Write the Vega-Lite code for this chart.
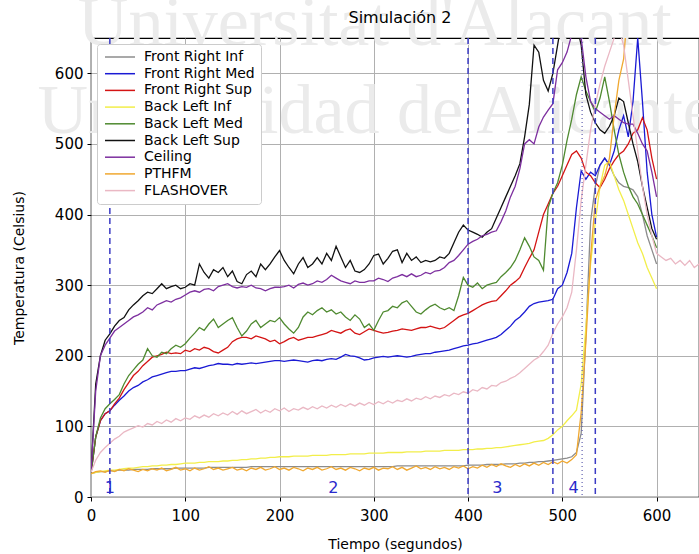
{
"$schema": "https://vega.github.io/schema/vega-lite/v6.json",
"width": 608, "height": 459,
"autosize": {"type": "none"},
"padding": {"left": 91, "top": 38, "right": 0, "bottom": 57},
"background": "white",
"config": {"font": "DejaVu Sans", "view": {"stroke": "#000", "strokeWidth": 1.2}},
"title": {"text": "Simulación 2", "fontSize": 16, "fontWeight": "normal", "color": "#000", "offset": -37, "dx": 5, "frame": "group"},
"datasets": {
"names": [{"k":"a","s":"Front Right Inf"},{"k":"b","s":"Front Right Med"},{"k":"c","s":"Front Right Sup"},{"k":"d","s":"Back Left Inf"},{"k":"e","s":"Back Left Med"},{"k":"f","s":"Back Left Sup"},{"k":"g","s":"Ceiling"},{"k":"h","s":"PTHFM"},{"k":"i","s":"FLASHOVER"}],
"wm": [{"t":301,"v":640,"w":"Universitat d'Alacant"},{"t":302,"v":515,"w":"Universidad de Alicante"}],
"vl": [{"t":20},{"t":400},{"t":490},{"t":535}],
"vd": [{"t":521}],
"labs": [{"t":20,"lab":"1"},{"t":257,"lab":"2"},{"t":431,"lab":"3"},{"t":512,"lab":"4"}],
"temps": [
{"t":0,"a":33,"b":33,"c":33,"d":33,"e":33,"f":35,"g":35,"h":33,"i":35},
{"t":5,"a":35,"b":85,"c":85,"d":35,"e":85,"f":160,"g":150,"h":36,"i":52},
{"t":10,"a":36,"b":108,"c":108,"d":36,"e":112,"f":200,"g":200,"h":37,"i":63},
{"t":15,"a":36,"b":118,"c":118,"d":37,"e":125,"f":222,"g":215,"h":35,"i":70},
{"t":20,"a":37,"b":122,"c":122,"d":38,"e":132,"f":231,"g":225,"h":38,"i":76},
{"t":25,"a":37,"b":130,"c":132,"d":38,"e":138,"f":242,"g":235,"h":36,"i":82},
{"t":30,"a":38,"b":137,"c":140,"d":39,"e":145,"f":250,"g":240,"h":39,"i":86},
{"t":35,"a":38,"b":143,"c":152,"d":40,"e":160,"f":254,"g":245,"h":37,"i":92},
{"t":40,"a":38,"b":150,"c":162,"d":41,"e":172,"f":265,"g":250,"h":40,"i":95},
{"t":45,"a":39,"b":155,"c":172,"d":41,"e":180,"f":272,"g":255,"h":38,"i":98},
{"t":50,"a":39,"b":158,"c":178,"d":42,"e":188,"f":278,"g":258,"h":36,"i":101},
{"t":55,"a":39,"b":163,"c":186,"d":43,"e":194,"f":285,"g":262,"h":39,"i":99},
{"t":60,"a":39,"b":166,"c":192,"d":43,"e":210,"f":290,"g":268,"h":37,"i":104},
{"t":65,"a":40,"b":170,"c":198,"d":44,"e":200,"f":288,"g":265,"h":40,"i":102},
{"t":70,"a":40,"b":172,"c":200,"d":44,"e":198,"f":295,"g":272,"h":38,"i":107},
{"t":75,"a":40,"b":174,"c":202,"d":45,"e":205,"f":302,"g":275,"h":41,"i":104},
{"t":80,"a":40,"b":176,"c":205,"d":45,"e":203,"f":295,"g":278,"h":37,"i":109},
{"t":85,"a":40,"b":178,"c":203,"d":46,"e":210,"f":298,"g":276,"h":39,"i":106},
{"t":90,"a":41,"b":178,"c":204,"d":46,"e":215,"f":300,"g":280,"h":42,"i":111},
{"t":95,"a":41,"b":179,"c":203,"d":47,"e":212,"f":295,"g":282,"h":38,"i":108},
{"t":100,"a":41,"b":179,"c":208,"d":48,"e":217,"f":297,"g":286,"h":40,"i":112},
{"t":105,"a":41,"b":181,"c":206,"d":48,"e":225,"f":302,"g":290,"h":37,"i":110},
{"t":110,"a":41,"b":183,"c":210,"d":48,"e":232,"f":300,"g":292,"h":41,"i":115},
{"t":115,"a":41,"b":182,"c":208,"d":49,"e":240,"f":330,"g":290,"h":38,"i":112},
{"t":120,"a":41,"b":184,"c":212,"d":49,"e":236,"f":318,"g":294,"h":40,"i":116},
{"t":125,"a":42,"b":186,"c":210,"d":50,"e":245,"f":310,"g":295,"h":43,"i":113},
{"t":130,"a":42,"b":187,"c":206,"d":50,"e":252,"f":322,"g":292,"h":39,"i":118},
{"t":135,"a":42,"b":189,"c":204,"d":50,"e":240,"f":318,"g":298,"h":41,"i":115},
{"t":140,"a":42,"b":188,"c":208,"d":51,"e":245,"f":325,"g":300,"h":38,"i":119},
{"t":145,"a":42,"b":188,"c":212,"d":51,"e":250,"f":312,"g":302,"h":40,"i":116},
{"t":150,"a":42,"b":187,"c":220,"d":52,"e":254,"f":320,"g":298,"h":42,"i":121},
{"t":155,"a":42,"b":189,"c":224,"d":52,"e":240,"f":305,"g":296,"h":38,"i":117},
{"t":160,"a":42,"b":188,"c":226,"d":53,"e":228,"f":302,"g":298,"h":40,"i":122},
{"t":165,"a":42,"b":189,"c":226,"d":53,"e":235,"f":315,"g":297,"h":37,"i":118},
{"t":170,"a":43,"b":190,"c":224,"d":54,"e":245,"f":320,"g":300,"h":41,"i":121},
{"t":175,"a":43,"b":189,"c":228,"d":54,"e":250,"f":312,"g":296,"h":39,"i":124},
{"t":180,"a":43,"b":190,"c":226,"d":55,"e":240,"f":330,"g":295,"h":42,"i":119},
{"t":185,"a":43,"b":191,"c":224,"d":55,"e":245,"f":322,"g":292,"h":38,"i":123},
{"t":190,"a":43,"b":192,"c":220,"d":56,"e":250,"f":330,"g":295,"h":40,"i":120},
{"t":195,"a":43,"b":193,"c":222,"d":56,"e":248,"f":340,"g":297,"h":43,"i":125},
{"t":200,"a":43,"b":193,"c":217,"d":57,"e":254,"f":349,"g":297,"h":39,"i":122},
{"t":205,"a":43,"b":192,"c":220,"d":57,"e":245,"f":335,"g":298,"h":41,"i":126},
{"t":210,"a":43,"b":193,"c":224,"d":57,"e":238,"f":325,"g":300,"h":38,"i":121},
{"t":215,"a":43,"b":194,"c":226,"d":58,"e":232,"f":316,"g":296,"h":42,"i":125},
{"t":220,"a":43,"b":193,"c":222,"d":58,"e":240,"f":330,"g":301,"h":40,"i":123},
{"t":225,"a":43,"b":192,"c":224,"d":58,"e":255,"f":339,"g":303,"h":37,"i":127},
{"t":230,"a":43,"b":191,"c":226,"d":58,"e":262,"f":325,"g":300,"h":41,"i":124},
{"t":235,"a":43,"b":193,"c":226,"d":59,"e":258,"f":330,"g":302,"h":39,"i":128},
{"t":240,"a":43,"b":194,"c":228,"d":59,"e":264,"f":339,"g":306,"h":42,"i":125},
{"t":245,"a":43,"b":193,"c":230,"d":59,"e":268,"f":330,"g":304,"h":38,"i":129},
{"t":250,"a":43,"b":195,"c":232,"d":59,"e":262,"f":345,"g":308,"h":40,"i":126},
{"t":255,"a":43,"b":196,"c":236,"d":60,"e":265,"f":335,"g":314,"h":43,"i":130},
{"t":260,"a":43,"b":195,"c":234,"d":60,"e":259,"f":355,"g":310,"h":39,"i":127},
{"t":265,"a":43,"b":198,"c":232,"d":60,"e":262,"f":340,"g":306,"h":41,"i":131},
{"t":270,"a":43,"b":202,"c":236,"d":60,"e":255,"f":325,"g":304,"h":38,"i":128},
{"t":275,"a":43,"b":200,"c":238,"d":61,"e":250,"f":335,"g":302,"h":42,"i":132},
{"t":280,"a":43,"b":199,"c":232,"d":61,"e":258,"f":320,"g":306,"h":40,"i":129},
{"t":285,"a":43,"b":197,"c":230,"d":61,"e":252,"f":318,"g":304,"h":37,"i":133},
{"t":290,"a":43,"b":194,"c":234,"d":61,"e":240,"f":322,"g":304,"h":41,"i":130},
{"t":295,"a":43,"b":195,"c":238,"d":62,"e":245,"f":330,"g":306,"h":39,"i":134},
{"t":300,"a":43,"b":197,"c":236,"d":62,"e":236,"f":342,"g":306,"h":42,"i":131},
{"t":305,"a":43,"b":198,"c":234,"d":62,"e":250,"f":344,"g":310,"h":38,"i":135},
{"t":310,"a":43,"b":199,"c":232,"d":62,"e":262,"f":330,"g":308,"h":41,"i":132},
{"t":315,"a":43,"b":198,"c":233,"d":63,"e":264,"f":338,"g":305,"h":40,"i":136},
{"t":320,"a":43,"b":199,"c":235,"d":63,"e":270,"f":348,"g":310,"h":43,"i":133},
{"t":325,"a":44,"b":200,"c":236,"d":63,"e":268,"f":350,"g":312,"h":39,"i":137},
{"t":330,"a":44,"b":199,"c":238,"d":63,"e":275,"f":332,"g":315,"h":42,"i":135},
{"t":335,"a":44,"b":198,"c":237,"d":64,"e":278,"f":345,"g":312,"h":38,"i":139},
{"t":340,"a":44,"b":199,"c":236,"d":64,"e":270,"f":335,"g":316,"h":41,"i":136},
{"t":345,"a":44,"b":201,"c":238,"d":64,"e":262,"f":340,"g":312,"h":44,"i":140},
{"t":350,"a":44,"b":202,"c":240,"d":64,"e":259,"f":332,"g":314,"h":40,"i":138},
{"t":355,"a":44,"b":203,"c":240,"d":65,"e":265,"f":335,"g":318,"h":42,"i":142},
{"t":360,"a":44,"b":203,"c":242,"d":65,"e":270,"f":333,"g":316,"h":39,"i":139},
{"t":365,"a":44,"b":205,"c":240,"d":65,"e":273,"f":335,"g":320,"h":43,"i":143},
{"t":370,"a":44,"b":206,"c":238,"d":65,"e":268,"f":340,"g":321,"h":40,"i":141},
{"t":375,"a":44,"b":207,"c":240,"d":66,"e":265,"f":338,"g":325,"h":42,"i":145},
{"t":380,"a":44,"b":208,"c":245,"d":66,"e":268,"f":345,"g":332,"h":39,"i":143},
{"t":385,"a":44,"b":210,"c":250,"d":66,"e":264,"f":360,"g":335,"h":43,"i":147},
{"t":390,"a":44,"b":212,"c":255,"d":66,"e":285,"f":375,"g":342,"h":41,"i":145},
{"t":395,"a":44,"b":214,"c":258,"d":67,"e":311,"f":385,"g":350,"h":44,"i":149},
{"t":400,"a":45,"b":215,"c":260,"d":67,"e":300,"f":378,"g":358,"h":40,"i":147},
{"t":405,"a":45,"b":217,"c":264,"d":67,"e":297,"f":375,"g":362,"h":43,"i":152},
{"t":410,"a":45,"b":218,"c":268,"d":68,"e":303,"f":372,"g":365,"h":41,"i":150},
{"t":415,"a":45,"b":220,"c":272,"d":68,"e":295,"f":368,"g":370,"h":45,"i":155},
{"t":420,"a":46,"b":222,"c":275,"d":69,"e":300,"f":375,"g":372,"h":42,"i":153},
{"t":425,"a":46,"b":224,"c":277,"d":69,"e":302,"f":380,"g":375,"h":46,"i":158},
{"t":430,"a":46,"b":226,"c":278,"d":70,"e":304,"f":395,"g":377,"h":43,"i":157},
{"t":435,"a":46,"b":230,"c":285,"d":70,"e":312,"f":410,"g":390,"h":47,"i":162},
{"t":440,"a":47,"b":236,"c":292,"d":71,"e":318,"f":425,"g":405,"h":44,"i":164},
{"t":445,"a":47,"b":242,"c":300,"d":72,"e":325,"f":440,"g":425,"h":42,"i":168},
{"t":450,"a":47,"b":250,"c":305,"d":73,"e":335,"f":455,"g":440,"h":46,"i":171},
{"t":455,"a":48,"b":255,"c":311,"d":74,"e":350,"f":472,"g":465,"h":43,"i":176},
{"t":460,"a":48,"b":262,"c":325,"d":75,"e":367,"f":510,"g":500,"h":47,"i":182},
{"t":465,"a":49,"b":270,"c":338,"d":76,"e":355,"f":556,"g":506,"h":44,"i":188},
{"t":470,"a":49,"b":274,"c":350,"d":78,"e":340,"f":640,"g":500,"h":48,"i":194},
{"t":475,"a":50,"b":276,"c":375,"d":79,"e":335,"f":630,"g":524,"h":45,"i":198},
{"t":480,"a":50,"b":277,"c":400,"d":80,"e":321,"f":590,"g":538,"h":49,"i":206},
{"t":485,"a":51,"b":278,"c":415,"d":83,"e":410,"f":575,"g":548,"h":46,"i":215},
{"t":490,"a":52,"b":280,"c":430,"d":88,"e":430,"f":600,"g":557,"h":50,"i":232},
{"t":495,"a":53,"b":295,"c":440,"d":95,"e":445,"f":640,"g":605,"h":47,"i":245},
{"t":500,"a":54,"b":300,"c":455,"d":100,"e":470,"f":680,"g":615,"h":51,"i":255},
{"t":505,"a":55,"b":318,"c":470,"d":108,"e":505,"f":690,"g":630,"h":48,"i":268},
{"t":510,"a":57,"b":345,"c":485,"d":115,"e":535,"f":680,"g":655,"h":53,"i":290},
{"t":515,"a":63,"b":410,"c":490,"d":123,"e":570,"f":670,"g":670,"h":60,"i":350},
{"t":520,"a":90,"b":462,"c":480,"d":160,"e":595,"f":640,"g":650,"h":120,"i":420},
{"t":525,"a":230,"b":450,"c":460,"d":240,"e":575,"f":570,"g":595,"h":220,"i":470},
{"t":530,"a":390,"b":460,"c":455,"d":330,"e":560,"f":545,"g":560,"h":340,"i":520},
{"t":535,"a":440,"b":455,"c":445,"d":390,"e":545,"f":530,"g":550,"h":420,"i":555},
{"t":540,"a":470,"b":470,"c":438,"d":440,"e":565,"f":520,"g":545,"h":440,"i":585},
{"t":545,"a":480,"b":480,"c":450,"d":470,"e":595,"f":515,"g":540,"h":455,"i":610},
{"t":550,"a":470,"b":470,"c":465,"d":475,"e":560,"f":525,"g":535,"h":480,"i":630},
{"t":555,"a":455,"b":490,"c":476,"d":455,"e":520,"f":540,"g":540,"h":540,"i":650},
{"t":560,"a":445,"b":520,"c":485,"d":435,"e":485,"f":565,"g":535,"h":590,"i":662},
{"t":565,"a":440,"b":540,"c":490,"d":420,"e":460,"f":560,"g":530,"h":620,"i":640},
{"t":570,"a":438,"b":510,"c":500,"d":400,"e":440,"f":530,"g":528,"h":700,"i":590},
{"t":575,"a":435,"b":560,"c":515,"d":380,"e":425,"f":500,"g":528,"i":540},
{"t":580,"a":425,"b":650,"c":520,"d":360,"e":415,"f":475,"g":515,"i":490},
{"t":585,"a":400,"b":560,"c":537,"d":345,"e":400,"f":440,"g":500,"i":440},
{"t":590,"a":370,"b":460,"c":520,"d":325,"e":385,"f":410,"g":490,"i":400},
{"t":595,"a":350,"b":400,"c":480,"d":310,"e":370,"f":380,"g":460,"i":370},
{"t":600,"a":330,"b":368,"c":450,"d":295,"e":353,"f":365,"g":425,"i":345},
{"t":605,"i":340},{"t":610,"i":335},{"t":615,"i":338},{"t":620,"i":330},{"t":625,"i":335},{"t":630,"i":328},{"t":635,"i":335},{"t":640,"i":325},{"t":645,"i":330}
]
},
"layer": [
{"data": {"name": "wm"},
 "mark": {"type": "text", "font": "Liberation Serif", "fontSize": 70, "color": "#ebebeb", "baseline": "alphabetic"},
 "encoding": {
  "x": {"field": "t", "type": "quantitative", "scale": {"domain": [0, 645], "nice": false, "zero": false},
   "axis": {"title": "Tiempo (segundos)", "values": [0,100,200,300,400,500,600], "format": "d", "labelFontSize": 15, "titleFontSize": 14, "titleFontWeight": "normal", "labelColor": "#000", "titleColor": "#000", "grid": true, "gridColor": "#b0b0b0", "gridWidth": 1, "domain": false, "tickColor": "#000", "tickSize": 4, "labelPadding": 7, "titlePadding": 14, "labelFlush": false}},
  "y": {"field": "v", "type": "quantitative", "scale": {"domain": [0, 650], "nice": false},
   "axis": {"title": "Temperatura (Celsius)", "values": [0,100,200,300,400,500,600], "format": "d", "labelFontSize": 15, "titleFontSize": 14, "titleFontWeight": "normal", "labelColor": "#000", "titleColor": "#000", "grid": true, "gridColor": "#b0b0b0", "gridWidth": 1, "domain": false, "tickColor": "#000", "tickSize": 4, "labelPadding": 4, "titlePadding": 28}},
  "text": {"field": "w"}}},
{"data": {"name": "temps"},
 "transform": [{"fold": ["a","b","c","d","e","f","g","h","i"], "as": ["k","v"]}, {"filter": "isValid(datum.v)"}, {"lookup": "k", "from": {"data": {"name": "names"}, "key": "k", "fields": ["s"]}}],
 "mark": {"type": "line", "strokeWidth": 1.3, "clip": true},
 "encoding": {
  "x": {"field": "t", "type": "quantitative"},
  "y": {"field": "v", "type": "quantitative"},
  "color": {"field": "s", "type": "nominal",
   "scale": {"domain": ["Front Right Inf","Front Right Med","Front Right Sup","Back Left Inf","Back Left Med","Back Left Sup","Ceiling","PTHFM","FLASHOVER"],
             "range": ["#8c8c8c","#1a1ad4","#d41414","#f2ee4a","#4f8a30","#111111","#7d2f9f","#f0a830","#eab8c4"]},
   "legend": {"title": null, "orient": "top-left", "offset": 6, "fillColor": "white", "strokeColor": "#cccccc", "cornerRadius": 3, "padding": 6, "symbolType": "M-1,0H5", "symbolSize": 100, "symbolStrokeWidth": 1.5, "labelFontSize": 14, "labelColor": "#000", "rowPadding": 2.7, "labelOffset": 27}}
 }},
{"data": {"name": "vl"},
 "mark": {"type": "rule", "color": "#3b3bc4", "strokeDash": [6, 4], "strokeWidth": 1.5},
 "encoding": {"x": {"field": "t", "type": "quantitative"}}},
{"data": {"name": "vd"},
 "mark": {"type": "rule", "color": "#6060b0", "strokeDash": [1, 3], "strokeWidth": 1.2},
 "encoding": {"x": {"field": "t", "type": "quantitative"}}},
{"data": {"name": "labs"},
 "mark": {"type": "text", "color": "#2a2acc", "fontSize": 16, "baseline": "bottom"},
 "encoding": {"x": {"field": "t", "type": "quantitative"}, "y": {"datum": 2, "type": "quantitative"}, "text": {"field": "lab"}}}
]
}
